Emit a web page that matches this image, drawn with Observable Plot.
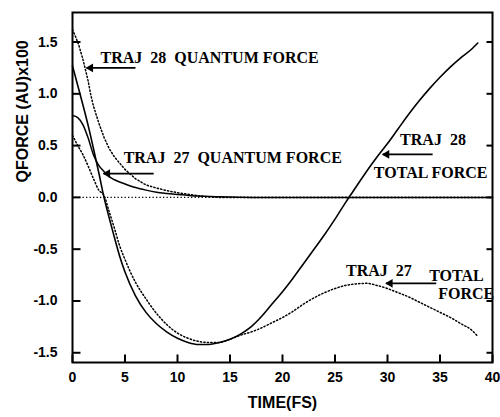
<!DOCTYPE html>
<html><head><meta charset="utf-8">
<script src="https://cdn.jsdelivr.net/npm/d3@7"></script>
<script src="https://cdn.jsdelivr.net/npm/@observablehq/plot@0.6"></script>
<style>body{margin:0;background:#fff} svg text{white-space:pre}</style>
</head><body><div id="chart"></div>
<script>
const xTicks = [0, 5, 10, 15, 20, 25, 30, 35, 40];
const yTicks = [-1.5, -1.0, -0.5, 0.0, 0.5, 1.0, 1.5];

// TRAJ 28 total force (solid)
const t28Total = [0,0.5,1,1.5,2,2.5,3,3.5,4,4.5,5,6,7,8,9,10,11,12,13,14,15,16,17,18,19,20,21,22,23,24,25,26,27,28,29,30,31,32,33,34,35,36,37,38,38.6];
const f28Total = [1.27,1.08,0.89,0.69,0.47,0.24,0.0,-0.2,-0.39,-0.57,-0.72,-0.95,-1.11,-1.22,-1.30,-1.36,-1.40,-1.42,-1.42,-1.40,-1.37,-1.32,-1.25,-1.15,-1.03,-0.91,-0.78,-0.64,-0.50,-0.36,-0.21,-0.05,0.10,0.25,0.39,0.52,0.66,0.80,0.93,1.05,1.16,1.26,1.35,1.43,1.49];

// TRAJ 27 total force (dotted)
const t27Total = [0,0.5,1,1.5,2,2.5,3,3.5,4,4.5,5,6,7,8,9,10,11,12,13,14,15,16,17,18,19,20,21,22,23,24,25,26,27,28,29,30,31,32,33,34,35,36,37,38,38.5];
const f27Total = [0.6,0.5,0.41,0.3,0.18,0.07,0.02,-0.14,-0.3,-0.47,-0.6,-0.82,-0.98,-1.12,-1.23,-1.31,-1.36,-1.39,-1.40,-1.40,-1.37,-1.33,-1.30,-1.26,-1.21,-1.16,-1.10,-1.03,-0.97,-0.92,-0.88,-0.85,-0.835,-0.83,-0.85,-0.88,-0.92,-0.96,-1.01,-1.06,-1.11,-1.16,-1.22,-1.28,-1.33];

// TRAJ 28 quantum force (dotted)
const t28Quantum = [0,0.3,0.6,1,1.24,1.5,1.72,2,2.5,3,3.5,4,5,6,7,8,9,10,11,12,13,14,40];
const f28Quantum = [1.62,1.55,1.47,1.33,1.23,1.12,1.0,0.88,0.72,0.58,0.47,0.39,0.27,0.18,0.12,0.09,0.065,0.045,0.03,0.015,0.007,0.0,0.0];

// TRAJ 27 quantum force (solid)
const t27Quantum = [0,0.5,1,1.5,2,2.5,3,3.5,4,5,6,7,8,9,10,11,12,14,16,18,40];
const f27Quantum = [0.79,0.77,0.70,0.57,0.41,0.31,0.25,0.2,0.17,0.13,0.095,0.07,0.05,0.038,0.028,0.02,0.013,0.006,0.002,0.0,0.0];

// annotations (data coordinates)
const annoText = ["TRAJ\u00a0 28\u00a0 QUANTUM FORCE", "TRAJ\u00a0 27\u00a0 QUANTUM FORCE", "TRAJ\u00a0 28", "TOTAL FORCE", "TRAJ\u00a0 27", "TOTAL", "FORCE"];
const annoX = [2.67, 4.87, 31.2, 28.7, 26.05, 33.97, 34.83];
const annoY = [1.35, 0.38, 0.555, 0.236, -0.705, -0.753, -0.936];
const arrowTailX = [6.0, 7.73, 34.3, 34.64];
const arrowTipX = [1.34, 2.96, 29.55, 29.87];
const arrowY = [1.25, 0.23, 0.415, -0.83];

const rows = (t, f) => t.map((x, i) => ({t: x, f: f[i]}));
const anno = annoText.map((s, i) => ({s, x: annoX[i], y: annoY[i]}));
const arrows = arrowY.map((y, i) => ({x1: arrowTailX[i], x2: arrowTipX[i], y}));

const W = 500, H = 417, ML = 72, MR = 8, MT = 12, MB = 55;
const xDomain = [0, 40], yDomain = [-1.594, 1.785];
const frameW = W - ML - MR, frameH = H - MT - MB;
// tick lengths converted from pixels into data units
const tickLenY = 8 * (yDomain[1] - yDomain[0]) / frameH;
const tickLenX = 8 * (xDomain[1] - xDomain[0]) / frameW;
const tickLenXR = 6 * (xDomain[1] - xDomain[0]) / frameW;
const dotted = "1.3,2.2";
const serif = "'Liberation Serif', 'Times New Roman', serif";

const chart = Plot.plot({
  width: W, height: H,
  marginLeft: ML, marginRight: MR, marginTop: MT, marginBottom: MB,
  x: {domain: xDomain},
  y: {domain: yDomain},
  style: {fontFamily: "'Liberation Sans', Arial, sans-serif", fontWeight: "bold", fontSize: "14px", color: "#000", background: "#fff"},
  marks: [
    Plot.ruleY([0], {stroke: "#000", strokeWidth: 1.3, strokeDasharray: dotted}),
    Plot.line(rows(t28Quantum, f28Quantum), {x: "t", y: "f", stroke: "#000", strokeWidth: 1.5, strokeDasharray: dotted}),
    Plot.line(rows(t27Total, f27Total), {x: "t", y: "f", stroke: "#000", strokeWidth: 1.5, strokeDasharray: dotted, curve: "monotone-x"}),
    Plot.line(rows(t27Quantum, f27Quantum), {x: "t", y: "f", stroke: "#000", strokeWidth: 1.5, curve: "monotone-x"}),
    Plot.line(rows(t28Total, f28Total), {x: "t", y: "f", stroke: "#000", strokeWidth: 1.6, curve: "monotone-x"}),
    Plot.link(arrows, {x1: "x1", x2: "x2", y1: "y", y2: "y", stroke: "#000", strokeWidth: 1.8}),
    Plot.dot(arrows, {x: "x2", y: "y", symbol: "triangle", r: 3.2, rotate: -90, dx: 4, fill: "#000", stroke: null}),
    Plot.text(anno, {x: "x", y: "y", text: "s", textAnchor: "start", fontFamily: serif, fontWeight: "bold", fontSize: 16}),
    // inward ticks
    Plot.link(xTicks, {x1: d => d, x2: d => d, y1: yDomain[0], y2: yDomain[0] + tickLenY, stroke: "#000", strokeWidth: 2}),
    Plot.link(yTicks, {y1: d => d, y2: d => d, x1: xDomain[0], x2: xDomain[0] + tickLenX, stroke: "#000", strokeWidth: 2}),
    Plot.link(yTicks, {y1: d => d, y2: d => d, x1: xDomain[1] - tickLenXR, x2: xDomain[1], stroke: "#000", strokeWidth: 2}),
    Plot.frame({stroke: "#000", strokeWidth: 2}),
    Plot.axisX({ticks: xTicks, tickSize: 0, tickPadding: 10, label: null, tickFormat: d => String(d)}),
    Plot.axisY({ticks: yTicks, tickSize: 0, tickPadding: 15, label: null, tickFormat: d => d.toFixed(1)}),
    Plot.text(["TIME(FS)"], {frameAnchor: "bottom", dy: 45, fontSize: 16, fontWeight: "bold"}),
    Plot.text(["QFORCE (AU)x100"], {frameAnchor: "left", dx: -50, dy: -5, rotate: -90, fontSize: 16, fontWeight: "bold"})
  ]
});
document.getElementById("chart").appendChild(chart);
</script>
</body></html>
